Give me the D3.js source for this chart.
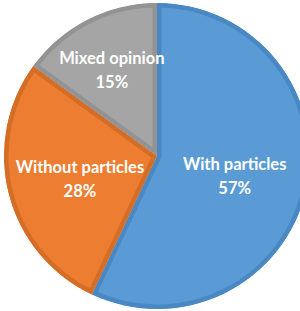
<!DOCTYPE html>
<html>
<head>
<meta charset="utf-8">
<script src="https://cdn.jsdelivr.net/npm/d3@7"></script>
<style>
  body { margin: 0; background: #fff; }
  svg { display: block; }
</style>
</head>
<body>
<div id="chart"></div>
<script>
const categories = ["With particles", "Without particles", "Mixed opinion"];
const shares = [57, 28, 15];
const percentLabels = ["57%", "28%", "15%"];
const fills = ["#5b9bd5", "#ed7d31", "#a5a5a5"];
const borders = ["#4a88c4", "#d46d26", "#939393"];

const width = 300;
const height = 311;
const cx = 157;
const cy = 156;
const radius = 153;

const dataset = categories.map((c, i) => ({
  name: c,
  value: shares[i],
  label: percentLabels[i],
  fill: fills[i],
  border: borders[i],
}));

const wrapper = d3
  .select("#chart")
  .append("svg")
  .attr("width", width)
  .attr("height", height);

const defs = wrapper.append("defs");

const bounds = wrapper
  .append("g")
  .attr("transform", `translate(${cx}, ${cy})`);

// pie layout, starting at 12 o'clock, clockwise
const pie = d3.pie().sort(null).value((d) => d.value);
const arcs = pie(dataset);

const arc = d3.arc().innerRadius(0).outerRadius(radius);

// clip each slice to itself so the darker border stays inside
// (clip coords are in the slice's own user space, already translated)
arcs.forEach((d, i) => {
  defs
    .append("clipPath")
    .attr("id", `clip-${i}`)
    .append("path")
    .attr("d", arc(d));
});

bounds
  .append("g")
  .selectAll("path")
  .data(arcs)
  .enter()
  .append("path")
  .attr("d", arc)
  .attr("fill", (d) => d.data.fill)
  .attr("stroke", (d) => d.data.border)
  .attr("stroke-width", 9)
  .attr("stroke-linejoin", "round")
  .attr("clip-path", (d, i) => `url(#clip-${i})`);

// labels
const labelRadius = (d) => (d.data.value < 20 ? radius * 0.65 : radius * 0.52);

const labels = bounds
  .append("g")
  .selectAll("text")
  .data(arcs)
  .enter()
  .append("text")
  .attr("transform", (d) => {
    const a = (d.startAngle + d.endAngle) / 2;
    const r = labelRadius(d);
    return `translate(${Math.sin(a) * r}, ${-Math.cos(a) * r})`;
  })
  .attr("text-anchor", "middle")
  .attr("fill", "#ffffff")
  .style("font-family", "Lato, 'Open Sans', sans-serif")
  .style("font-weight", "bold")
  .style("font-size", "16.5px");

labels
  .append("tspan")
  .attr("x", 0)
  .attr("y", -3)
  .text((d) => d.data.name);

labels
  .append("tspan")
  .attr("x", 0)
  .attr("y", 21)
  .text((d) => d.data.label);
</script>
</body>
</html>
